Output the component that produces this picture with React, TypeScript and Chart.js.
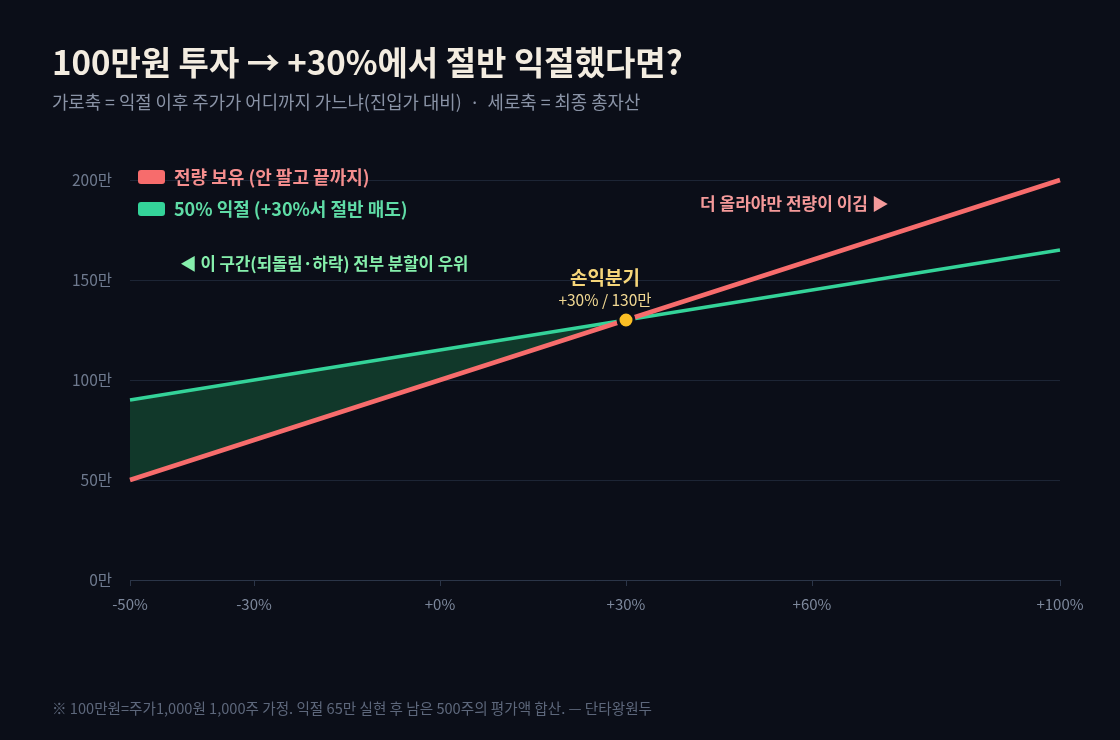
import React, { useEffect, useRef } from "react";
import { Chart, registerables } from "chart.js";

Chart.register(...registerables);

// price move after the take-profit, % vs entry
const moves = [-50, -30, 0, 30, 60, 100];
// final total asset, in 만원
const holdAll = [50, 70, 100, 130, 160, 200];
const halfSold = [90, 100, 115, 130, 145, 165];
const breakEven = { x: 30, y: 130 };
const xTicks = [-50, -30, 0, 30, 60, 100];
const yTicks = [0, 50, 100, 150, 200];

const BG = "#0b0e18";
const RED = "#f76c6c";
const GREEN = "#34d399";
const FONT = "'Noto Sans CJK KR', 'Noto Sans', sans-serif";

const overlay = {
  id: "overlay",
  afterDatasetsDraw(chart: any) {
    const { ctx, scales } = chart;
    const x = scales.x;
    const y = scales.y;
    ctx.save();
    ctx.textBaseline = "middle";

    // legend
    const items = [
      { c: RED, t: "#f58e8e", label: "전량 보유 (안 팔고 끝까지)", yy: 177 },
      { c: GREEN, t: "#5fdca6", label: "50% 익절 (+30%서 절반 매도)", yy: 209 },
    ];
    for (const it of items) {
      ctx.fillStyle = it.c;
      ctx.beginPath();
      (ctx as any).roundRect(138, it.yy - 7, 27, 14, 3);
      ctx.fill();
      ctx.fillStyle = it.t;
      ctx.font = `bold 18px ${FONT}`;
      ctx.textAlign = "left";
      ctx.fillText(it.label, 174, it.yy);
    }

    // breakeven label
    const bx = x.getPixelForValue(breakEven.x) - 21;
    const by = y.getPixelForValue(breakEven.y);
    ctx.textAlign = "center";
    ctx.fillStyle = "#f6d67a";
    ctx.font = `bold 19px ${FONT}`;
    ctx.fillText("손익분기", bx, by - 42);
    ctx.fillStyle = "#f1d893";
    ctx.font = `15.5px ${FONT}`;
    ctx.fillText(`+${breakEven.x}% / ${breakEven.y}만`, bx, by - 20);

    // region notes
    ctx.textAlign = "left";
    ctx.font = `bold 17px ${FONT}`;
    ctx.fillStyle = "#f59a9a";
    ctx.fillText("더 올라야만 전량이 이김 ▶", 700, 204);
    ctx.fillStyle = "#86efac";
    ctx.font = `bold 16.7px ${FONT}`;
    ctx.fillText("◀ 이 구간(되돌림·하락) 전부 분할이 우위", 180, 264);
    ctx.restore();
  },
};

export default function App() {
  const ref = useRef<HTMLCanvasElement | null>(null);

  useEffect(() => {
    if (!ref.current) return;
    const chart = new Chart(ref.current, {
      type: "line",
      data: {
        datasets: [
          {
            label: "손익분기",
            data: [breakEven],
            showLine: false,
            pointRadius: 8,
            pointBackgroundColor: "#fbbf24",
            pointBorderColor: BG,
            pointBorderWidth: 3,
            clip: false as any,
          },
          {
            label: "전량 보유",
            data: moves.map((m, i) => ({ x: m, y: holdAll[i] })),
            borderColor: RED,
            borderWidth: 4.5,
            pointRadius: 0,
            fill: false,
            clip: false as any,
          },
          {
            label: "50% 익절",
            data: moves.map((m, i) => ({ x: m, y: halfSold[i] })),
            borderColor: GREEN,
            borderWidth: 3.5,
            pointRadius: 0,
            fill: { target: 1, above: "#11382a", below: "rgba(0,0,0,0)" } as any,
            clip: false as any,
          },
        ],
      },
      options: {
        responsive: false,
        animation: false,
        layout: { padding: { left: 60, right: 60, top: 180, bottom: 120 } },
        plugins: {
          legend: { display: false },
          tooltip: { enabled: false },
          title: { display: false },
        },
        scales: {
          x: {
            type: "linear",
            min: -50,
            max: 100,
            afterBuildTicks: (s: any) => {
              s.ticks = xTicks.map((v) => ({ value: v }));
            },
            afterFit: (s: any) => {
              s.height = 40;
            },
            ticks: {
              color: "#7d889c",
              font: { family: FONT, size: 15 },
              padding: 9,
              maxRotation: 0,
              callback: (v: any) => (v >= 0 ? `+${v}%` : `${v}%`),
            },
            grid: {
              drawOnChartArea: false,
              drawTicks: true,
              tickLength: 6,
              color: "#2b3548",
            },
            border: { display: true, color: "#2b3548", width: 1 },
          },
          y: {
            min: 0,
            max: 200,
            afterBuildTicks: (s: any) => {
              s.ticks = yTicks.map((v) => ({ value: v }));
            },
            afterFit: (s: any) => {
              s.width = 70;
            },
            ticks: {
              color: "#6f7a8f",
              font: { family: FONT, size: 15.5 },
              padding: 18,
              callback: (v: any) => `${v}만`,
            },
            grid: { drawTicks: false, color: "#1d2535", lineWidth: 1 },
            border: { display: false },
          },
        },
      },
      plugins: [overlay],
    });
    return () => chart.destroy();
  }, []);

  return (
    <div
      style={{
        position: "fixed",
        inset: 0,
        width: 1120,
        height: 740,
        background: BG,
        fontFamily: FONT,
        overflow: "hidden",
      }}
    >
      <canvas ref={ref} width={1120} height={740} style={{ position: "absolute", left: 0, top: 0 }} />
      <div
        style={{
          position: "absolute",
          left: 52,
          top: 36,
          fontSize: 33,
          lineHeight: "50px",
          fontWeight: 700,
          color: "#f3ece0",
          letterSpacing: 0,
          whiteSpace: "nowrap",
        }}
      >
        100만원 투자 → +30%에서 절반 익절했다면?
      </div>
      <div
        style={{
          position: "absolute",
          left: 52,
          top: 88,
          fontSize: 17.8,
          lineHeight: "26px",
          color: "#8a93a6",
          whiteSpace: "nowrap",
        }}
      >
        가로축 = 익절 이후 주가가 어디까지 가느냐(진입가 대비) &nbsp;·&nbsp; 세로축 = 최종 총자산
      </div>
      <div
        style={{
          position: "absolute",
          left: 52,
          top: 697,
          fontSize: 14.6,
          lineHeight: "22px",
          color: "#5d677b",
          whiteSpace: "nowrap",
        }}
      >
        ※ 100만원=주가1,000원 1,000주 가정. 익절 65만 실현 후 남은 500주의 평가액 합산. — 단타왕원두
      </div>
    </div>
  );
}
